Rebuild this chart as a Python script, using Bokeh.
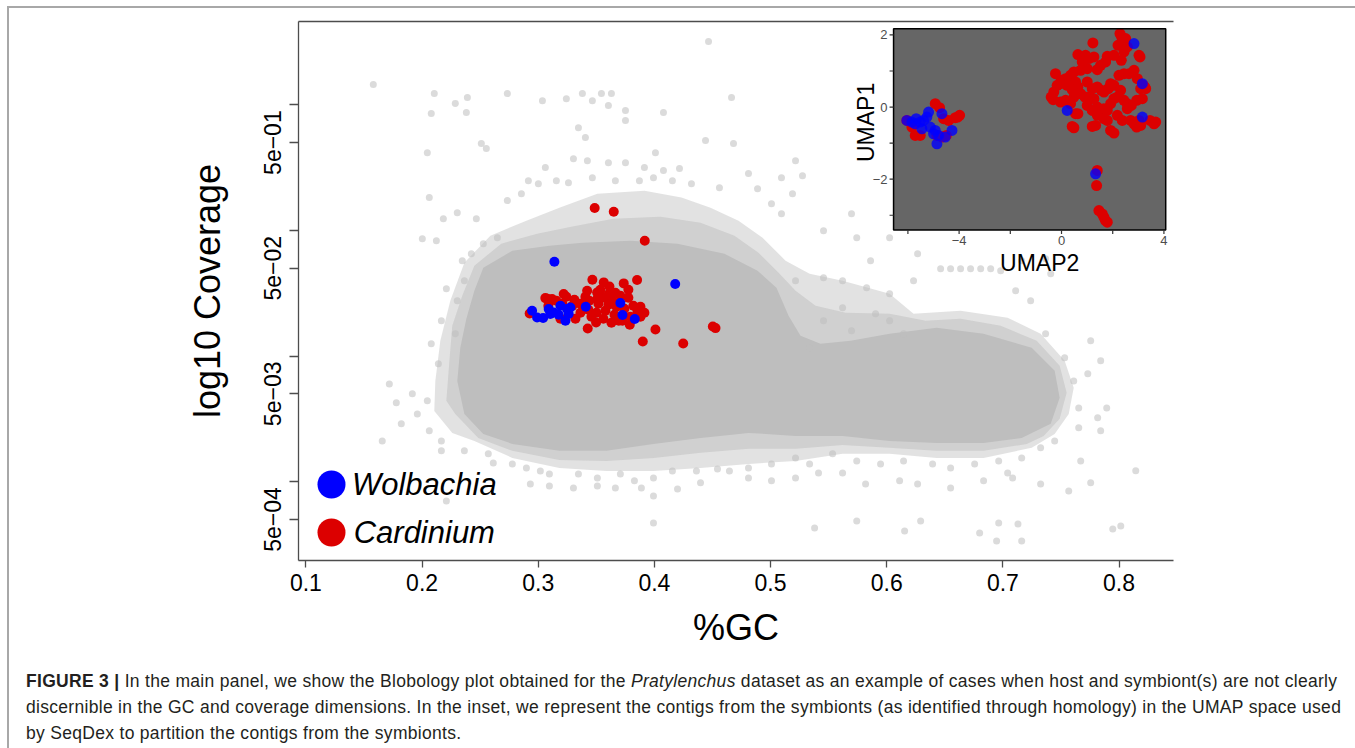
import math
from bokeh.plotting import figure
from bokeh.models import FixedTicker, LinearAxis, Legend, LegendItem, Div, Range1d, Label
from bokeh.core.properties import value
from bokeh.layouts import column
from bokeh.embed import file_html
from bokeh.resources import INLINE

FONT = "Liberation Sans"

# ---------------- main panel data (x = %GC, y = log10 coverage) ----------------
GC_TICKS = [0.1, 0.2, 0.3, 0.4, 0.5, 0.6, 0.7, 0.8]
COV_TICKS = [1.0, 0.5, 0.1, 0.05, 0.01, 0.005, 0.001, 0.0005]
COV_TICK_LABELS = ["", "5e\u221201", "", "5e\u221202", "", "5e\u221203", "", "5e\u221204"]

# saturated core of the host contig cloud (outline)
CORE_GC = [0.2303, 0.2329, 0.2381, 0.2450, 0.2527, 0.2777, 0.3096, 0.3380, 0.3794, 0.4199,
           0.4603, 0.4888, 0.5051, 0.5155, 0.5258, 0.5430, 0.5689, 0.6025, 0.6430, 0.6834,
           0.7248, 0.7446, 0.7489, 0.7412, 0.7162, 0.6834, 0.6430, 0.6025, 0.5620, 0.5215,
           0.4810, 0.4397, 0.3992, 0.3587, 0.3182, 0.2777, 0.2527, 0.2364]
CORE_LOG = [-2.198, -1.935, -1.704, -1.480, -1.297, -1.162, -1.122, -1.098, -1.082, -1.106,
            -1.186, -1.321, -1.457, -1.680, -1.839, -1.903, -1.879, -1.823, -1.775, -1.823,
            -1.935, -2.118, -2.333, -2.540, -2.652, -2.692, -2.692, -2.676, -2.636, -2.636,
            -2.612, -2.652, -2.700, -2.755, -2.755, -2.700, -2.620, -2.461]

# dense band around the core (outline)
MID_GC = [0.2209, 0.2234, 0.2260, 0.2346, 0.2450, 0.2682, 0.2992, 0.3285, 0.3647, 0.4052,
          0.4397, 0.4689, 0.4896, 0.5069, 0.5215, 0.5387, 0.5646, 0.6025, 0.6335, 0.6636,
          0.6981, 0.7291, 0.7489, 0.7549, 0.7489, 0.7351, 0.7205, 0.6834, 0.6430, 0.6025,
          0.5620, 0.5215, 0.4810, 0.4397, 0.3992, 0.3587, 0.3182, 0.2777, 0.2484, 0.2286]
MID_LOG = [-2.357, -2.054, -1.759, -1.520, -1.281, -1.106, -1.026, -0.971, -0.907, -0.891,
           -0.939, -1.042, -1.178, -1.337, -1.480, -1.600, -1.656, -1.664, -1.720, -1.704,
           -1.759, -1.879, -2.078, -2.293, -2.500, -2.636, -2.700, -2.755, -2.755, -2.731,
           -2.708, -2.739, -2.739, -2.771, -2.811, -2.835, -2.827, -2.755, -2.652, -2.461]

# outer, thinner part of the cloud (outline)
HALO_GC = [0.2105, 0.2114, 0.2157, 0.2243, 0.2364, 0.2588, 0.2898, 0.3182, 0.3509, 0.3914,
           0.4233, 0.4483, 0.4724, 0.4931, 0.5129, 0.5336, 0.5620, 0.6025, 0.6231, 0.6636,
           0.7041, 0.7325, 0.7532, 0.7610, 0.7567, 0.7446, 0.7248, 0.6834, 0.6430, 0.6025,
           0.5620, 0.5215, 0.4810, 0.4397, 0.3992, 0.3587, 0.3182, 0.2777, 0.2450, 0.2260]
HALO_LOG = [-2.437, -2.198, -1.879, -1.560, -1.257, -1.042, -0.923, -0.819, -0.708, -0.684,
            -0.739, -0.819, -0.923, -1.058, -1.241, -1.345, -1.401, -1.504, -1.664, -1.640,
            -1.696, -1.823, -2.038, -2.253, -2.461, -2.620, -2.731, -2.811, -2.811, -2.779,
            -2.779, -2.835, -2.859, -2.891, -2.915, -2.915, -2.891, -2.811, -2.676, -2.612]

# individual host contigs visible on the fringe and outside the cloud
GRAY_GC = [
    # above the left blob
    0.2105, 0.2390, 0.2734, 0.2286, 0.2381, 0.2079, 0.3036, 0.3242, 0.3380, 0.3466,
    0.3544, 0.3630, 0.3604, 0.3751, 0.3751, 0.4078, 0.4664, 0.3346, 0.3406, 0.2510,
    0.2553, 0.2045, 0.4009, 0.4440, 0.4681, 0.3303, 0.3423, 0.3604, 0.3751, 0.3914,
    0.4078, 0.4216, 0.3061, 0.3156, 0.3260, 0.3466, 0.3664, 0.3871, 0.3992, 0.4155,
    0.4319, 0.4560, 0.4810, 0.5094, 0.5215, 0.5275, 0.4888, 0.5008, 0.5094, 0.5189,
    0.2915, 0.3001, 0.2734, 0.2855, 0.2062, 0.2183, 0.2303, 0.2467, 0.2527, 0.2648,
    0.2002, 0.2123, 0.2346, 0.2424, 0.1580, 0.4466,
    # left side
    0.2209, 0.2364, 0.2303, 0.2166, 0.2286, 0.2079, 0.2140, 0.1718, 0.1916, 0.1778,
    0.2045, 0.1959, 0.1821, 0.2062, 0.2166, 0.1657, 0.2166,
    # below the cloud
    0.2364, 0.2570, 0.2613, 0.2777, 0.2898, 0.3018, 0.3096, 0.3346, 0.3509, 0.3707,
    0.3828, 0.3992, 0.4155, 0.4362, 0.4543, 0.4646, 0.4810, 0.5008, 0.5215, 0.5336,
    0.5534, 0.5742, 0.5947, 0.6145, 0.6395, 0.6550, 0.6757, 0.6964, 0.7162, 0.7325,
    0.7446, 0.2932, 0.3096, 0.3303, 0.3509, 0.3664, 0.3888, 0.3992, 0.4199, 0.4397,
    0.4810, 0.5008, 0.5215, 0.5413, 0.5620, 0.5818, 0.6111, 0.6266, 0.6550, 0.6834,
    0.7084, 0.7325, 0.7567, 0.7756, 0.7041, 0.3992, 0.5379, 0.5742, 0.6292, 0.6964,
    0.6800, 0.7130, 0.2209, 0.6154, 0.6946, 0.7162, 0.7946, 0.8015,
    # right of the right blob
    0.7653, 0.7816, 0.7653, 0.7610, 0.7532, 0.7368, 0.7731, 0.7894, 0.7756, 0.7842,
    0.8144, 0.7670, 0.7842,
    # between and above the blobs
    0.5215, 0.5456, 0.5620, 0.5827, 0.6025, 0.6231, 0.5620, 0.5904, 0.5456, 0.5697,
    0.6025, 0.6145, 0.5336, 0.5742, 0.6025, 0.5697, 0.5456, 0.6266, 0.5861, 0.7162,
    0.7412, 0.6464, 0.6550, 0.6636, 0.6722, 0.6809, 0.6895, 0.6981, 0.7368, 0.7110,
    0.7239]
GRAY_LOG = [
    0.089, 0.057, 0.089, 0.010, -0.062, -0.070, 0.033, 0.049, 0.089, 0.033,
    0.089, 0.089, -0.006, -0.046, -0.126, -0.062, 0.057, -0.182, -0.261, -0.309,
    -0.349, -0.381, -0.381, -0.285, -0.309, -0.429, -0.445, -0.461, -0.461, -0.500,
    -0.524, -0.508, -0.500, -0.604, -0.620, -0.580, -0.604, -0.604, -0.580, -0.604,
    -0.628, -0.660, -0.548, -0.580, -0.445, -0.564, -0.668, -0.787, -0.867, -0.708,
    -0.604, -0.628, -0.763, -0.708, -0.739, -0.907, -0.859, -0.907, -1.106, -1.058,
    -1.066, -1.082, -1.241, -1.186, 0.161, 0.504,
    -1.465, -1.401, -1.560, -1.720, -1.823, -1.903, -2.062, -2.222, -2.301, -2.373,
    -2.357, -2.461, -2.540, -2.596, -2.676, -2.676, -2.755,
    -2.755, -2.779, -2.851, -2.859, -2.891, -2.915, -2.939, -2.939, -2.971, -2.939,
    -2.994, -2.971, -2.915, -2.915, -2.899, -2.915, -2.891, -2.859, -2.811, -2.859,
    -2.779, -2.835, -2.859, -2.835, -2.859, -2.891, -2.859, -2.835, -2.811, -2.731,
    -2.676, -3.018, -3.034, -3.050, -3.034, -3.050, -3.050, -3.114, -3.058, -3.010,
    -2.971, -2.994, -2.971, -2.931, -2.931, -3.018, -2.994, -3.018, -3.050, -2.994,
    -2.971, -3.018, -3.074, -3.010, -2.931, -3.329, -3.369, -3.313, -3.313, -3.329,
    -3.409, -3.337, -3.154, -3.393, -3.473, -3.473, -3.377, -3.353,
    -2.572, -2.492, -2.413, -2.198, -2.014, -1.823, -2.142, -2.413, -1.879, -2.038,
    -2.914, -2.835, -2.596,
    -1.401, -1.377, -1.401, -1.457, -1.504, -1.401, -1.616, -1.664, -1.720, -1.799,
    -1.720, -1.823, -1.935, -1.058, -1.058, -0.867, -1.002, -1.186, -1.241, -1.241,
    -1.345, -1.305, -1.305, -1.305, -1.305, -1.305, -1.305, -1.321, -1.225, -1.480,
    -1.560]

# Cardinium contigs
RED_GC = [0.3486, 0.3650, 0.3917, 0.3466, 0.3564, 0.3736, 0.3851, 0.3613, 0.3219, 0.3421,
          0.3507, 0.3607, 0.3061, 0.3119, 0.2926, 0.3426, 0.3498, 0.3693, 0.3788, 0.3880,
          0.4009, 0.3900, 0.4248, 0.4503, 0.4526,
          0.3079, 0.3156, 0.3242, 0.3311, 0.3363, 0.3440, 0.3509, 0.3570, 0.3639, 0.3707,
          0.3776, 0.3819, 0.3854, 0.3794, 0.3725, 0.3656, 0.3578, 0.3501, 0.3432, 0.3363,
          0.3294, 0.3208, 0.3518, 0.3604, 0.3673, 0.3742, 0.3880, 0.3914, 0.3406, 0.3535,
          0.3664, 0.3776, 0.3320, 0.3191, 0.3087, 0.3458, 0.3561, 0.3630]
RED_LOG = [-0.822, -0.851, -1.082, -1.393, -1.414, -1.422, -1.395, -1.446, -1.507, -1.480,
           -1.494, -1.507, -1.539, -1.547, -1.661, -1.781, -1.733, -1.720, -1.751, -1.688,
           -1.789, -1.884, -1.900, -1.765, -1.778,
           -1.544, -1.560, -1.528, -1.552, -1.584, -1.560, -1.544, -1.536, -1.560, -1.520,
           -1.536, -1.600, -1.640, -1.688, -1.720, -1.672, -1.640, -1.656, -1.632, -1.656,
           -1.600, -1.584, -1.584, -1.592, -1.608, -1.624, -1.608, -1.656, -1.528, -1.473,
           -1.496, -1.473, -1.704, -1.704, -1.600, -1.688, -1.704, -1.735]

# Wolbachia contigs
BLUE_GC = [0.3139, 0.4179, 0.2947, 0.2990, 0.3042, 0.3090, 0.3133, 0.3176, 0.3248, 0.3262,
           0.3234, 0.3277, 0.3409, 0.3707, 0.3725, 0.3831, 0.3191, 0.3104]
BLUE_LOG = [-1.249, -1.427, -1.640, -1.693, -1.698, -1.626, -1.653, -1.672, -1.626, -1.666,
            -1.720, -1.614, -1.608, -1.578, -1.674, -1.706, -1.600, -1.666]

# ---------------- inset (UMAP) data ----------------
U2_TICKS = [-6, -4, -2, 0, 2, 4]
U2_LABELS = ["", "\u22124", "", "0", "", "4"]
U1_TICKS = [-3, -2, -1, 0, 1, 2]
U1_LABELS = ["", "\u22122", "", "0", "", "2"]

RED_U2 = [-6.04, -5.845, -5.714, -5.519, -4.932, -4.762, -4.605, -4.501, -4.410, -4.149,
          -4.057, -3.979, -4.866, -4.671,
          2.283, 2.348, 2.505, 2.570, 2.205, 2.440, 2.335, 2.048, 1.787, 1.226,
          0.639, 0.939, 0.809, 1.070, 1.265, 1.722, 1.526, 1.396, 1.005, 0.744,
          0.483, 0.352, 0.157, -0.013, -0.170, -0.235, -0.039, 0.222, 0.548, 0.639,
          1.005, 1.200, 1.396, 1.553, 1.657, 1.826, 1.918, 2.048, 2.244, 2.440,
          2.635, 2.831, 3.027, 3.066, 2.962, 3.092, 3.249, 3.157, 2.935, 2.727,
          2.570, 2.440, 2.309, 2.179, 2.048, 1.918, 1.787, 1.657, 1.396, 1.265,
          1.070, 0.913, 0.744, 0.483, 0.326, 0.157, -0.039, -0.300, -0.326, -0.404,
          0.352, 0.548, 0.417, 0.483, 0.639, 1.005, 1.200, 1.396, 1.657, 1.787,
          1.918, 2.048, 2.179, 2.374, 2.570, 2.701, 2.831, 3.027, 2.935, 3.092,
          3.457, 3.614, 3.679, 3.288, 3.196, 0.417, 1.331, 1.200,
          1.396, 1.370, 1.461, 1.592, 1.657, 1.722, 1.787]
RED_U1 = [-0.370, -0.556, -0.787, -0.787, 0.093, -0.019, -0.324, -0.787, -0.370, -0.296,
          -0.278, -0.231, -0.787, -0.833,
          2.037, 1.944, 1.898, 1.667, 1.713, 1.528, 1.296, 1.435, 1.407, 1.778,
          1.454, 1.435, 1.250, 1.343, 1.389, 1.250, 1.157, 1.037, 1.065, 1.019,
          0.972, 0.880, 0.787, 0.741, 0.602, 0.926, 0.648, 0.602, 0.694, 0.556,
          0.694, 0.509, 0.556, 0.463, 0.417, 0.509, 0.648, 0.602, 0.880, 0.926,
          0.926, 1.019, 1.435, 1.389, 0.787, 0.509, 0.556, 0.231, 0.185, 0.046,
          0.093, 0.185, 0.463, 0.278, 0.231, 0.093, -0.093, -0.046, 0.000, 0.231,
          0.278, 0.278, 0.370, 0.278, 0.139, 0.185, 0.139, 0.417, 0.204, 0.278,
          0.093, -0.185, -0.537, -0.574, -0.185, 0.046, -0.093, -0.231, -0.324, -0.370,
          -0.648, -0.722, -0.231, -0.370, -0.046, -0.370, -0.463, -0.370, -0.556, -0.509,
          -0.370, -0.463, -0.417, 0.509, 0.602, 0.481, -0.509, -0.537,
          -1.759, -2.176, -2.870, -2.963, -3.056, -3.148, -3.194]
BLUE_U2 = [2.831, 3.157, 3.157, 0.222, 1.331,
           -6.04, -5.845, -5.675, -5.519, -5.453, -5.388, -5.258, -5.193, -5.127, -4.997,
           -4.932, -4.866, -4.801, -4.671, -4.540, -4.279, -5.714]
BLUE_U1 = [1.759, 0.648, -0.278, -0.093, -1.852,
           -0.370, -0.417, -0.324, -0.417, -0.602, -0.370, -0.278, -0.139, -0.556, -0.741,
           -0.648, -1.019, -0.787, -0.185, -0.833, -0.648, -0.463]

GRAY = "#bebebe"
RED = "#dc0000"
BLUE = "#0000ff"
AXIS_COL = "#4d4d4d"

# ---------------- layout constants ----------------
X_RANGE = (0.0936, 0.8469)
Y_RANGE = (-3.628, 0.663)
FRAME_W, FRAME_H = 875, 539
INSET_X_RANGE = (-6.56, 4.07)
INSET_Y_RANGE = (-3.41, 2.17)
INSET_TARGET_X = (0.6059, 0.8402)     # where the inset panel sits, in main-panel units
INSET_TARGET_Y = (-0.997, 0.605)

# ---------------- main figure ----------------
p = figure(width=1342, height=652,
           x_range=Range1d(*X_RANGE), y_range=Range1d(*Y_RANGE),
           output_backend="svg", toolbar_location=None,
           min_border_left=289, min_border_right=178,
           min_border_top=13, min_border_bottom=100,
           outline_line_color=None)
p.xgrid.visible = False
p.ygrid.visible = False

p.patch(HALO_GC, HALO_LOG, fill_color=GRAY, fill_alpha=0.45, line_color=None)
p.patch(MID_GC, MID_LOG, fill_color=GRAY, fill_alpha=0.5, line_color=None)
p.patch(CORE_GC, CORE_LOG, fill_color=GRAY, fill_alpha=1.0, line_color=None)
p.scatter(GRAY_GC, GRAY_LOG, size=7, fill_color=GRAY, fill_alpha=0.55, line_color=None)
r_red = p.scatter(RED_GC, RED_LOG, size=10, fill_color=RED, line_color=None)
r_blue = p.scatter(BLUE_GC, BLUE_LOG, size=10, fill_color=BLUE, line_color=None)

xa = p.xaxis[0]
xa.ticker = FixedTicker(ticks=GC_TICKS, minor_ticks=[])
xa.major_label_overrides = {t: f"{t:.1f}" for t in GC_TICKS}
xa.axis_label = "%GC"
ya = p.yaxis[0]
LOG_TICKS = [math.log10(v) for v in COV_TICKS]
ya.ticker = FixedTicker(ticks=LOG_TICKS, minor_ticks=[])
ya.major_label_overrides = dict(zip(LOG_TICKS, COV_TICK_LABELS))
ya.major_label_orientation = "vertical"
ya.axis_label = "log10 Coverage"
for ax in (xa, ya):
    ax.axis_line_color = AXIS_COL
    ax.axis_line_width = 1.3
    ax.major_tick_line_color = AXIS_COL
    ax.major_tick_line_width = 1.3
    ax.major_tick_in = 0
    ax.minor_tick_line_color = None
    ax.major_label_text_font = FONT
    ax.major_label_text_font_size = "23px"
    ax.major_label_text_color = "black"
    ax.axis_label_text_font = FONT
    ax.axis_label_text_font_size = "36px"
    ax.axis_label_text_font_style = "normal"
    ax.axis_label_text_color = "black"
xa.major_tick_out = 7
xa.major_label_standoff = 6
xa.axis_label_standoff = 13
ya.major_tick_out = 9
ya.major_label_standoff = 8
ya.axis_label_standoff = 34

top_axis = LinearAxis(ticker=FixedTicker(ticks=[], minor_ticks=[]),
                      major_tick_out=0, major_tick_in=0,
                      major_label_text_font_size="0px",
                      axis_line_color=AXIS_COL, axis_line_width=1.3)
p.add_layout(top_axis, "above")

# legend: glyphs via Legend, texts as labels next to them
LEGEND_NAMES = ["Wolbachia", "Cardinium"]
LEGEND_TEXT_GC = [0.1396, 0.1411]
LEGEND_TEXT_LOG = [-3.021, -3.405]
for rend, vy in ((r_blue, 41), (r_red, -7)):
    leg = Legend(items=[LegendItem(label=" ", renderers=[rend])],
                 location=(-2, vy), orientation="vertical",
                 glyph_width=70, glyph_height=70, label_height=70, label_width=1,
                 label_standoff=0, padding=0, margin=0, spacing=0,
                 border_line_color=None, background_fill_alpha=0,
                 label_text_font_size="1px")
    p.add_layout(leg, "center")
for name, gx, gy in zip(LEGEND_NAMES, LEGEND_TEXT_GC, LEGEND_TEXT_LOG):
    p.add_layout(Label(x=gx, y=gy, text=name, text_font=FONT, text_font_size="31px",
                       text_font_style="italic", text_color="black",
                       text_align="left", text_baseline="middle"))

# ---------------- inset panel (sub-coordinates inside main panel) ----------------
sub = p.subplot(x_source=Range1d(*INSET_X_RANGE), y_source=Range1d(*INSET_Y_RANGE),
                x_target=Range1d(*INSET_TARGET_X), y_target=Range1d(*INSET_TARGET_Y))
ix0, ix1 = INSET_X_RANGE
iy0, iy1 = INSET_Y_RANGE
px_x = FRAME_W * (INSET_TARGET_X[1] - INSET_TARGET_X[0]) / (X_RANGE[1] - X_RANGE[0]) / (ix1 - ix0)
px_y = FRAME_H * (INSET_TARGET_Y[1] - INSET_TARGET_Y[0]) / (Y_RANGE[1] - Y_RANGE[0]) / (iy1 - iy0)
TICK_PX = 4

sub.quad(left=[ix0], right=[ix1], bottom=[iy0], top=[iy1],
         fill_color="#666666", line_color=None)
sub.scatter(RED_U2, RED_U1, size=11, fill_color=RED, line_color=None)
sub.scatter(BLUE_U2, BLUE_U1, size=11, fill_color=BLUE, fill_alpha=0.8, line_color=None)
sub.quad(left=[ix0], right=[ix1], bottom=[iy0], top=[iy1],
         fill_color=None, line_color="black", line_width=1.5)

sub.segment(x0=U2_TICKS, x1=U2_TICKS, y0=[iy0] * len(U2_TICKS),
            y1=[iy0 - TICK_PX / px_y] * len(U2_TICKS), line_color="#333333", line_width=1.2)
sub.segment(x0=[ix0] * len(U1_TICKS), x1=[ix0 - TICK_PX / px_x] * len(U1_TICKS),
            y0=U1_TICKS, y1=U1_TICKS, line_color="#333333", line_width=1.2)
sub.text(x=U2_TICKS, y=[iy0] * len(U2_TICKS), text=U2_LABELS, y_offset=6,
         text_align="center", text_baseline="top", text_font=value(FONT),
         text_font_size="13px", text_color="#4d4d4d")
sub.text(x=[ix0] * len(U1_TICKS), y=U1_TICKS, text=U1_LABELS, x_offset=-6,
         text_align="right", text_baseline="middle", text_font=value(FONT),
         text_font_size="13px", text_color="#4d4d4d")
sub.text(x=[(ix0 + ix1) / 2], y=[iy0], text=["UMAP2"], x_offset=10, y_offset=33,
         text_align="center", text_baseline="middle", text_font=value(FONT),
         text_font_size="23px", text_color="black")
sub.text(x=[ix0], y=[(iy0 + iy1) / 2], text=["UMAP1"], x_offset=-28, y_offset=-7,
         angle=math.pi / 2, text_align="center", text_baseline="middle",
         text_font=value(FONT), text_font_size="23px", text_color="black")

# ---------------- caption ----------------
CAPTION = ("<div style=\"padding:3px 0 0 12px; font-family:'Liberation Sans', Arial, sans-serif; "
           "font-size:17.5px; letter-spacing:0.3px; line-height:26px; color:#231f20; "
           "white-space:nowrap;\">"
           "<b>FIGURE 3 |</b> In the main panel, we show the Blobology plot obtained for the "
           "<i>Pratylenchus</i> dataset as an example of cases when host and symbiont(s) are not clearly<br>"
           "discernible in the GC and coverage dimensions. In the inset, we represent the contigs from the "
           "symbionts (as identified through homology) in the UMAP space used<br>"
           "by SeqDex to partition the contigs from the symbionts.</div>")
cap = Div(text=CAPTION, width=1342, height=80, styles={"overflow": "visible"})

root = column(p, cap,
              styles={"margin": "6px 0 0 7px", "border": "2px solid #a8a8a8",
                      "border-bottom": "none"})

open("out.html", "w").write(file_html(root, INLINE))
